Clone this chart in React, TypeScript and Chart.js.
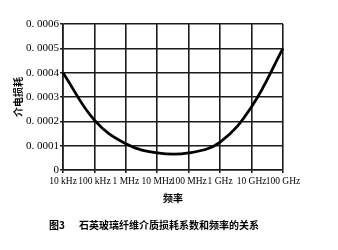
import React, { useEffect, useRef } from "react";
import { Chart, registerables } from "chart.js";

Chart.register(...registerables);

const categories = ["10 kHz", "100 kHz", "1 MHz", "10 MHz", "100 MHz", "1 GHz", "10 GHz", "100 GHz"];
const lossValues = [0.0004, 0.000205, 0.000108, 0.00007, 0.00007, 0.000115, 0.00026, 0.0005];
const yTitle = "介电损耗";
const xTitle = "频率";
const captionLabel = "图3";
const captionText = "石英玻璃纤维介质损耗系数和频率的关系";

export default function App() {
  const canvasRef = useRef<HTMLCanvasElement | null>(null);

  useEffect(() => {
    const canvas = canvasRef.current;
    if (!canvas) return;
    const gridColor = "#1c1c1c";
    const chart = new Chart(canvas, {
      type: "line",
      data: {
        labels: categories,
        datasets: [
          {
            data: lossValues,
            borderColor: "#000",
            borderWidth: 2.8,
            pointRadius: 0,
            tension: 0.4,
            fill: false,
          },
        ],
      },
      options: {
        animation: false,
        responsive: false,
        devicePixelRatio: 1,
        layout: { padding: { left: 0, right: 55, top: 24, bottom: 0 } },
        plugins: { legend: { display: false }, tooltip: { enabled: false } },
        scales: {
          x: {
            offset: false,
            grid: { color: gridColor, lineWidth: 1.6, tickLength: 3, drawTicks: true },
            border: { color: gridColor, width: 1.6 },
            ticks: {
              autoSkip: false,
              maxRotation: 0,
              minRotation: 0,
              padding: 3,
              color: "#000",
              font: { family: "Liberation Serif", size: 9.5 },
            },
            title: {
              display: true,
              text: xTitle,
              color: "#000",
              font: { family: "Noto Sans CJK SC", size: 10, weight: "bold" },
              padding: { top: 0, bottom: 46 },
            },
            afterFit: (scale: any) => {
              scale.height = 80;
            },
          },
          y: {
            min: 0,
            max: 0.0006,
            grid: { color: gridColor, lineWidth: 1.6, tickLength: 3, drawTicks: true },
            border: { color: gridColor, width: 1.6 },
            ticks: {
              stepSize: 0.0001,
              padding: 1,
              color: "#000",
              font: { family: "Liberation Serif", size: 11 },
              callback: (v: any) => {
                const n = Math.round(Number(v) * 10000);
                return n === 0 ? "0" : "0. 000" + n;
              },
            },
            title: {
              display: true,
              text: yTitle,
              color: "#000",
              font: { family: "Noto Sans CJK SC", size: 10, weight: "bold" },
              padding: { top: 12, bottom: 0 },
            },
            afterFit: (scale: any) => {
              scale.width = 63;
            },
          },
        },
      },
    });
    return () => chart.destroy();
  }, []);

  return (
    <div style={{ position: "absolute", left: 0, top: 0, width: 338, height: 250, background: "#fff" }}>
      <canvas ref={canvasRef} width={338} height={250} style={{ display: "block" }} />
      <div
        style={{
          position: "absolute",
          left: 49,
          top: 218,
          fontFamily: "'Noto Sans CJK SC'",
          fontWeight: "bold",
          fontSize: 10,
          lineHeight: "14px",
          whiteSpace: "nowrap",
          color: "#000",
        }}
      >
        <span>{captionLabel}</span>
        <span style={{ marginLeft: 14 }}>{captionText}</span>
      </div>
    </div>
  );
}
